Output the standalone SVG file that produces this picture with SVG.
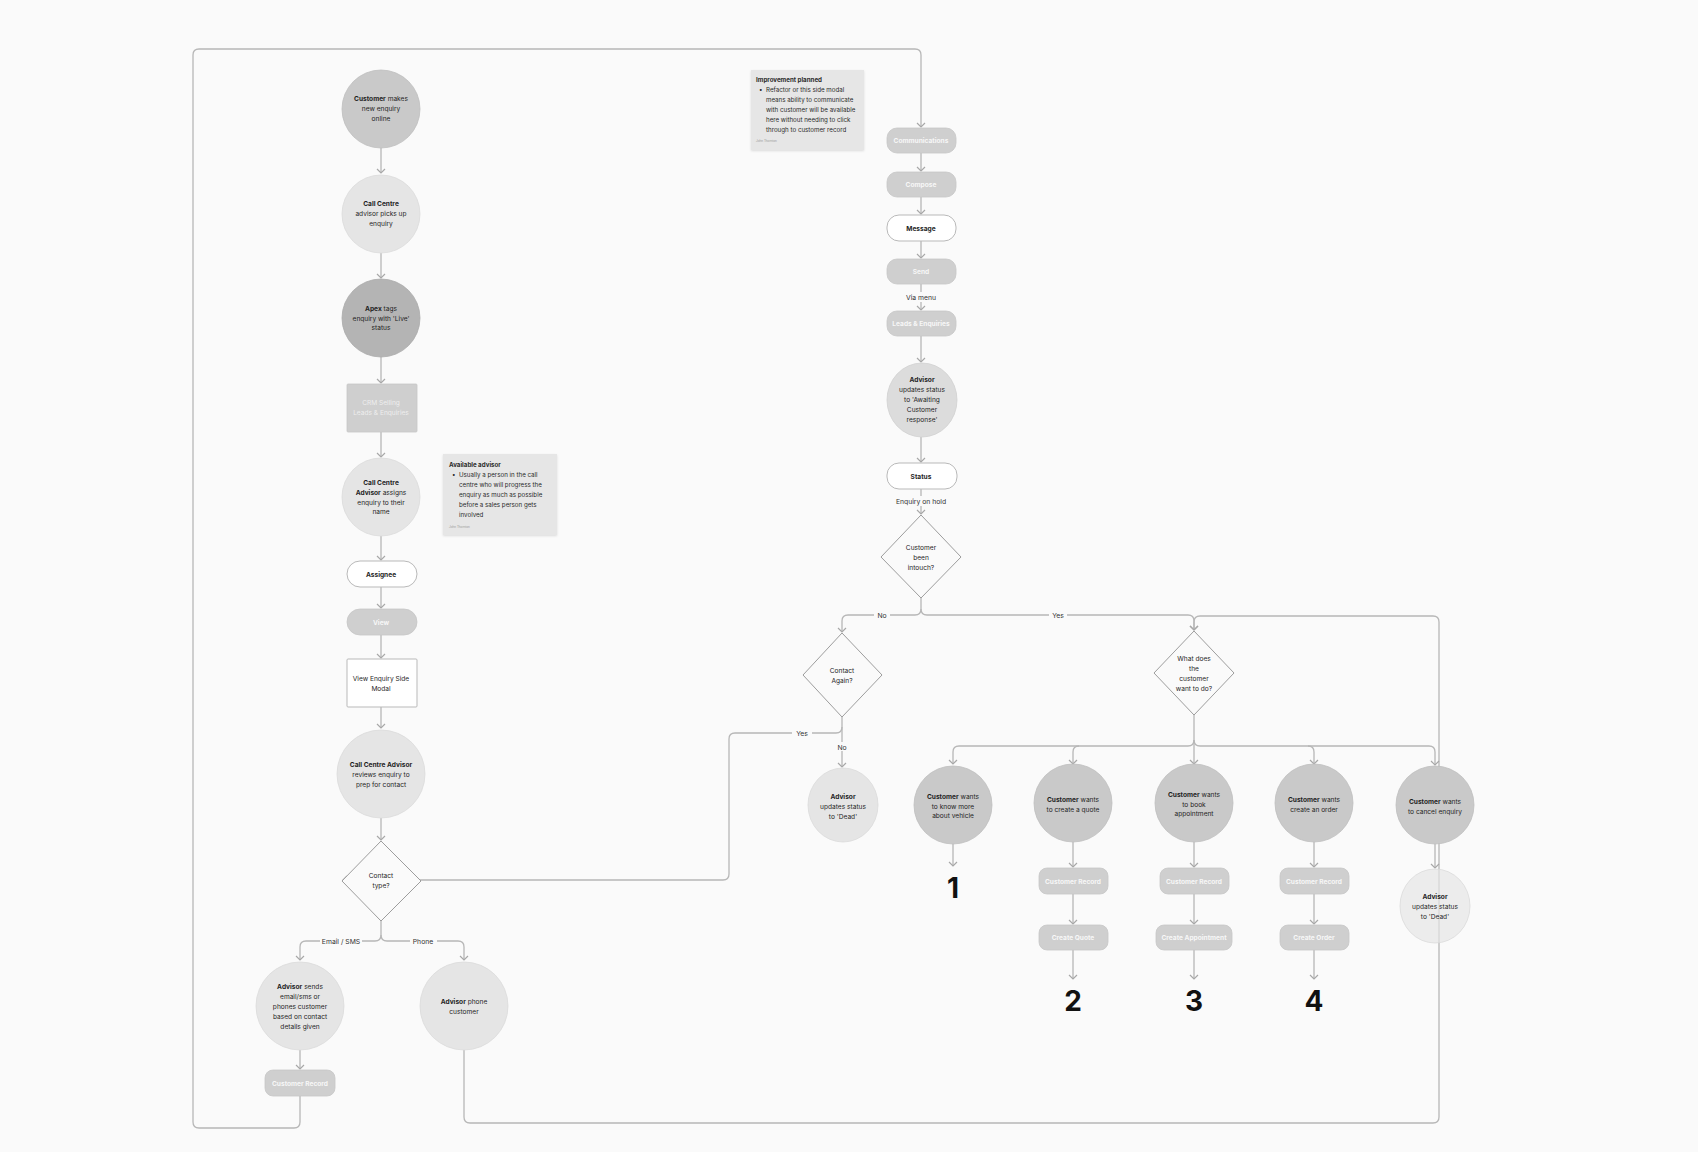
<svg xmlns="http://www.w3.org/2000/svg" width="1698" height="1152" viewBox="0 0 1698 1152">
<defs>
<marker id="arr" markerWidth="10" markerHeight="10" refX="0" refY="0" orient="auto" markerUnits="userSpaceOnUse" overflow="visible">
<path d="M-4,-4 L0,0 L-4,4" fill="none" stroke="#a8a8a8" stroke-width="1.2"/>
</marker>
<filter id="sh" x="-10%" y="-10%" width="120%" height="130%">
<feDropShadow dx="0" dy="1" stdDeviation="1" flood-color="#000" flood-opacity="0.12"/>
</filter>
</defs>
<style>
text{font-family:Inter,"Noto Sans","Liberation Sans",sans-serif;fill:#1f1f1f;}
.t{font-size:6.6px;text-anchor:middle;}
.b{font-weight:700;}
.w{fill:#f7f7f7;font-weight:700;}
.lbl{font-size:6.8px;text-anchor:middle;fill:#333;}
.n{font-size:6.2px;fill:#2a2a2a;}
.auth{font-size:3px;fill:#999;}
.num{font-size:28px;font-weight:700;text-anchor:middle;fill:#111;}
.ca{fill:none;stroke:#b7b7b7;stroke-width:1.3;marker-end:url(#arr);}
.dk{fill:#c9c9c9;stroke:#bebebe;stroke-width:0.8;}
.ap{fill:#b4b4b4;stroke:#aaaaaa;stroke-width:0.8;}
.lt{fill:#e5e5e5;stroke:#dadada;stroke-width:0.8;}
.md{fill:#dcdcdc;stroke:#d0d0d0;stroke-width:0.8;}
.gr{fill:#cfcfcf;stroke:#c6c6c6;stroke-width:0.8;}
.wh{fill:#ffffff;stroke:#b9b9b9;stroke-width:1;}
.dm{fill:#fafafa;stroke:#9d9d9d;stroke-width:1;}
.note{fill:#e6e6e6;filter:url(#sh);}
.lb{fill:#fafafa;}
</style>
<rect x="0" y="0" width="1698" height="1152" fill="#fafafa"/>

<g id="connectors">
<path class="ca" d="M381,148 V173"/>
<path class="ca" d="M381,253 V278"/>
<path class="ca" d="M381,357 V383"/>
<path class="ca" d="M381,432 V457"/>
<path class="ca" d="M381,536 V560"/>
<path class="ca" d="M381,587 V608"/>
<path class="ca" d="M381,635 V658"/>
<path class="ca" d="M381,707 V728"/>
<path class="ca" d="M381,818 V840"/>
<path class="ca" d="M381,921 V935 Q381,941 375,941 H306 Q300,941 300,947 V960"/>
<path class="ca" d="M381,935 Q381,941 387,941 H458 Q464,941 464,947 V960"/>
<path class="ca" d="M300,1050 V1069"/>
<path class="ca" d="M300,1096 V1122 Q300,1128 294,1128 H199 Q193,1128 193,1122 V55 Q193,49 199,49 H915 Q921,49 921,55 V127"/>
<path class="ca" d="M464,1050 V1117 Q464,1123 470,1123 H1433 Q1439,1123 1439,1117 V622 Q1439,616 1433,616 H1200 Q1194,616 1194,622 V630"/>
<path class="ca" d="M921,153 V171"/>
<path class="ca" d="M921,197 V214"/>
<path class="ca" d="M921,241 V258"/>
<path class="ca" d="M921,284 V310"/>
<path class="ca" d="M921,336 V362"/>
<path class="ca" d="M921,437 V462"/>
<path class="ca" d="M921,489 V514"/>
<path class="ca" d="M921,598 V609 Q921,615 915,615 H848 Q842,615 842,621 V632"/>
<path class="ca" d="M921,609 Q921,615 927,615 H1188 Q1194,615 1194,621 V630"/>
<path class="ca" d="M842,717 V767"/>
<path class="ca" d="M842,727 Q842,733 836,733 H735 Q729,733 729,739 V874 Q729,880 723,880 H343"/>
<path class="ca" d="M1194,715 V764"/>
<path class="ca" d="M1194,740 Q1194,746 1188,746 H959 Q953,746 953,752 V764"/>
<path class="ca" d="M1079,746 Q1073,746 1073,752 V764"/>
<path class="ca" d="M1194,740 Q1194,746 1200,746 H1429 Q1435,746 1435,752 V765"/>
<path class="ca" d="M1308,746 Q1314,746 1314,752 V764"/>
<path class="ca" d="M953,844 V866"/>
<path class="ca" d="M1073,842 V867"/>
<path class="ca" d="M1073,894 V924"/>
<path class="ca" d="M1073,950 V979"/>
<path class="ca" d="M1194,842 V867"/>
<path class="ca" d="M1194,894 V924"/>
<path class="ca" d="M1194,950 V979"/>
<path class="ca" d="M1314,842 V867"/>
<path class="ca" d="M1314,894 V924"/>
<path class="ca" d="M1314,950 V979"/>
<path class="ca" d="M1435,844 V868"/>
<rect class="lb" x="320" y="936" width="42" height="10"/>
<text class="lbl" x="341" y="943.5">Email / SMS</text>
<rect class="lb" x="410" y="936" width="27" height="10"/>
<text class="lbl" x="423" y="943.5">Phone</text>
<rect class="lb" x="903" y="292" width="36" height="10"/>
<text class="lbl" x="921" y="300">Via menu</text>
<rect class="lb" x="894" y="496" width="54" height="10"/>
<text class="lbl" x="921" y="504">Enquiry on hold</text>
<rect class="lb" x="874" y="611" width="16" height="9"/>
<text class="lbl" x="882" y="618">No</text>
<rect class="lb" x="1049" y="610" width="18" height="9"/>
<text class="lbl" x="1058" y="617.5">Yes</text>
<rect class="lb" x="792" y="729" width="20" height="9"/>
<text class="lbl" x="802" y="736">Yes</text>
<rect class="lb" x="835" y="742" width="14" height="9"/>
<text class="lbl" x="842" y="749.5">No</text>
</g>

<g id="n-customer-makes"><circle class="dk" cx="381" cy="109" r="39"/>
<text class="t" x="381" y="101"><tspan class="b">Customer</tspan> makes</text><text class="t" x="381" y="111">new enquiry</text><text class="t" x="381" y="121">online</text></g>
<g id="n-callcentre-picks"><circle class="lt" cx="381" cy="214" r="39"/>
<text class="t b" x="381" y="206">Call Centre</text><text class="t" x="381" y="216">advisor picks up</text><text class="t" x="381" y="226">enquiry</text></g>
<g id="n-apex"><circle class="ap" cx="381" cy="318" r="39"/>
<text class="t" x="381" y="311"><tspan class="b">Apex</tspan> tags</text><text class="t" x="381" y="321">enquiry with 'Live'</text><text class="t" x="381" y="330">status</text></g>
<g id="n-crm"><rect class="gr" x="347" y="384" width="70" height="48" rx="1"/>
<text class="t" x="381" y="405" style="fill:#eeeeee">CRM Selling</text><text class="t" x="381" y="415" style="fill:#eeeeee">Leads &amp; Enquiries</text></g>
<g id="n-assigns"><circle class="lt" cx="381" cy="497" r="39"/>
<text class="t b" x="381" y="485">Call Centre</text><text class="t" x="381" y="495"><tspan class="b">Advisor</tspan> assigns</text><text class="t" x="381" y="505">enquiry to their</text><text class="t" x="381" y="514">name</text></g>
<g id="n-assignee"><rect class="wh" x="347" y="561" width="70" height="26" rx="13"/>
<text class="t b" x="381" y="576.5">Assignee</text></g>
<g id="n-view"><rect class="gr" x="347" y="609" width="70" height="26" rx="13"/>
<text class="t w" x="381" y="624.5">View</text></g>
<g id="n-side-modal"><rect class="wh" x="347" y="659" width="70" height="48" rx="1"/>
<text class="t" x="381" y="681">View Enquiry Side</text><text class="t" x="381" y="690.5">Modal</text></g>
<g id="n-reviews"><circle class="lt" cx="381" cy="774" r="44"/>
<text class="t b" x="381" y="767">Call Centre Advisor</text><text class="t" x="381" y="777">reviews enquiry to</text><text class="t" x="381" y="787">prep for contact</text></g>
<g id="n-contact-type"><path class="dm" d="M381,841 L421,881 L381,921 L342,881 Z"/>
<text class="t" x="381" y="878">Contact</text><text class="t" x="381" y="888">type?</text></g>
<g id="n-sends"><circle class="lt" cx="300" cy="1006" r="44"/>
<text class="t" x="300" y="989"><tspan class="b">Advisor</tspan> sends</text><text class="t" x="300" y="999">email/sms or</text><text class="t" x="300" y="1008.5">phones customer</text><text class="t" x="300" y="1018.5">based on contact</text><text class="t" x="300" y="1028.5">details given</text></g>
<g id="n-phone"><circle class="lt" cx="464" cy="1006" r="44"/>
<text class="t" x="464" y="1003.5"><tspan class="b">Advisor</tspan> phone</text><text class="t" x="464" y="1013.5">customer</text></g>
<g id="n-custrecord-left"><rect class="gr" x="265" y="1070" width="70" height="26" rx="8"/>
<text class="t w" x="300" y="1085.5">Customer Record</text></g>

<g id="n-note-available"><rect class="note" x="443" y="454" width="114" height="81"/>
<text class="n b" x="449" y="467">Available advisor</text>
<text class="n" x="452" y="477">•</text>
<text class="n" x="459" y="477">Usually a person in the call</text>
<text class="n" x="459" y="487">centre who will progress the</text>
<text class="n" x="459" y="497">enquiry as much as possible</text>
<text class="n" x="459" y="507">before a sales person gets</text>
<text class="n" x="459" y="516.5">involved</text>
<text class="auth" x="449" y="528">John Thornton</text></g>
<g id="n-note-improvement"><rect class="note" x="751" y="70" width="113" height="80"/>
<text class="n b" x="756" y="82">Improvement planned</text>
<text class="n" x="759" y="92">•</text>
<text class="n" x="766" y="92">Refactor or this side modal</text>
<text class="n" x="766" y="102">means ability to communicate</text>
<text class="n" x="766" y="112">with customer will be available</text>
<text class="n" x="766" y="122">here without needing to click</text>
<text class="n" x="766" y="132">through to customer record</text>
<text class="auth" x="756" y="142">John Thornton</text></g>

<g id="n-communications"><rect class="gr" x="887" y="128" width="69" height="25" rx="10"/>
<text class="t w" x="921" y="143">Communications</text></g>
<g id="n-compose"><rect class="gr" x="887" y="172" width="69" height="25" rx="10"/>
<text class="t w" x="921" y="187">Compose</text></g>
<g id="n-message"><rect class="wh" x="887" y="215" width="69" height="26" rx="12"/>
<text class="t b" x="921" y="230.5">Message</text></g>
<g id="n-send"><rect class="gr" x="887" y="259" width="69" height="25" rx="10"/>
<text class="t w" x="921" y="274">Send</text></g>
<g id="n-leads"><rect class="gr" x="887" y="311" width="69" height="25" rx="10"/>
<text class="t w" x="921" y="326">Leads &amp; Enquiries</text></g>
<g id="n-awaiting"><ellipse class="md" cx="922" cy="400" rx="35" ry="37"/>
<text class="t b" x="922" y="382">Advisor</text><text class="t" x="922" y="392">updates status</text><text class="t" x="922" y="402">to 'Awaiting</text><text class="t" x="922" y="411.5">Customer</text><text class="t" x="922" y="421.5">response'</text></g>
<g id="n-status"><rect class="wh" x="887" y="463" width="70" height="26" rx="12"/>
<text class="t b" x="921" y="478.5">Status</text></g>
<g id="n-intouch"><path class="dm" d="M921,515 L961,557 L921,598 L881,557 Z"/>
<text class="t" x="921" y="549.5">Customer</text><text class="t" x="921" y="559.5">been</text><text class="t" x="921" y="569.5">intouch?</text></g>
<g id="n-contact-again"><path class="dm" d="M842,633 L882,675 L842,717 L803,675 Z"/>
<text class="t" x="842" y="672.5">Contact</text><text class="t" x="842" y="682.5">Again?</text></g>
<g id="n-dead-left"><ellipse class="lt" cx="843" cy="805" rx="35" ry="37"/>
<text class="t b" x="843" y="798.5">Advisor</text><text class="t" x="843" y="808.5">updates status</text><text class="t" x="843" y="818.5">to 'Dead'</text></g>
<g id="n-what"><path class="dm" d="M1194,631 L1234,673 L1194,715 L1154,673 Z"/>
<text class="t" x="1194" y="660.5">What does</text><text class="t" x="1194" y="670.5">the</text><text class="t" x="1194" y="680.5">customer</text><text class="t" x="1194" y="690.5">want to do?</text></g>
<g id="n-know-more"><circle class="dk" cx="953" cy="805" r="39"/>
<text class="t" x="953" y="798.5"><tspan class="b">Customer</tspan> wants</text><text class="t" x="953" y="808.5">to know more</text><text class="t" x="953" y="818">about vehicle</text></g>
<g id="n-quote"><circle class="dk" cx="1073" cy="803" r="39"/>
<text class="t" x="1073" y="801.5"><tspan class="b">Customer</tspan> wants</text><text class="t" x="1073" y="811.5">to create a quote</text></g>
<g id="n-appointment"><circle class="dk" cx="1194" cy="803" r="39"/>
<text class="t" x="1194" y="796.5"><tspan class="b">Customer</tspan> wants</text><text class="t" x="1194" y="806.5">to book</text><text class="t" x="1194" y="816">appointment</text></g>
<g id="n-order"><circle class="dk" cx="1314" cy="803" r="39"/>
<text class="t" x="1314" y="801.5"><tspan class="b">Customer</tspan> wants</text><text class="t" x="1314" y="811.5">create an order</text></g>
<g id="n-cancel"><circle class="dk" cx="1435" cy="805" r="39"/>
<text class="t" x="1435" y="803.5"><tspan class="b">Customer</tspan> wants</text><text class="t" x="1435" y="813.5">to cancel enquiry</text></g>
<g id="n-dead-right"><ellipse class="lt" cx="1435" cy="906" rx="35" ry="37" fill-opacity="0.7"/>
<text class="t b" x="1435" y="898.5">Advisor</text><text class="t" x="1435" y="908.5">updates status</text><text class="t" x="1435" y="918.5">to 'Dead'</text></g>

<g id="n-cr-quote"><rect class="gr" x="1039" y="868" width="69" height="26" rx="8"/><text class="t w" x="1073" y="883.5">Customer Record</text></g>
<g id="n-cr-appt"><rect class="gr" x="1160" y="868" width="69" height="26" rx="8"/><text class="t w" x="1194" y="883.5">Customer Record</text></g>
<g id="n-cr-order"><rect class="gr" x="1280" y="868" width="69" height="26" rx="8"/><text class="t w" x="1314" y="883.5">Customer Record</text></g>
<g id="n-create-quote"><rect class="gr" x="1039" y="925" width="69" height="25" rx="8"/><text class="t w" x="1073" y="940">Create Quote</text></g>
<g id="n-create-appt"><rect class="gr" x="1156" y="925" width="76" height="25" rx="8"/><text class="t w" x="1194" y="940">Create Appointment</text></g>
<g id="n-create-order"><rect class="gr" x="1280" y="925" width="69" height="25" rx="8"/><text class="t w" x="1314" y="940">Create Order</text></g>

<g id="n-num1"><text class="num" x="953" y="898">1</text></g>
<g id="n-num2"><text class="num" x="1073" y="1011">2</text></g>
<g id="n-num3"><text class="num" x="1194" y="1011">3</text></g>
<g id="n-num4"><text class="num" x="1314" y="1011">4</text></g>
</svg>
